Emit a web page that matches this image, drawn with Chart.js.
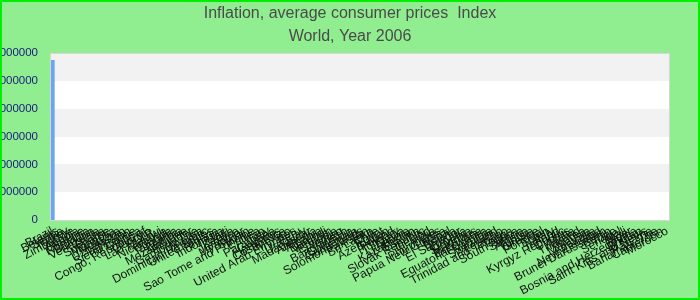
<!DOCTYPE html>
<html>
<head>
<meta charset="utf-8">
<script src="https://cdn.jsdelivr.net/npm/chart.js@4"></script>
<style>
  body { margin: 0; }
  #wrap {
    position: relative;
    width: 700px;
    height: 300px;
    box-sizing: border-box;
    border: 2px solid #00ee00;
    background: #90ee90;
  }
</style>
</head>
<body>
<div id="wrap"><canvas id="inflationChart"></canvas></div>
<script>
const titleLines = ["Inflation, average consumer prices  Index", "World, Year 2006"];

const countries = [
  "Brazil", "Belarus", "Serbia", "Turkey", "Zimbabwe", "Angola", "Ukraine", "Romania",
  "Bulgaria", "Venezuela", "Ghana", "Suriname", "Mongolia", "Moldova", "Uzbekistan", "Tajikistan",
  "Sierra Leone", "Guinea", "Congo, Republic of", "Georgia", "Lao P.D.R.", "Malawi", "Nicaragua", "Uganda",
  "Tanzania", "Zambia", "Mozambique", "Ecuador", "Gambia, The", "Russia", "Dominican Republic", "United States",
  "Nigeria", "Indonesia", "Haiti", "Kenya", "Jamaica", "Myanmar", "Sudan", "Sao Tome and Principe",
  "Eritrea", "Iran", "Paraguay", "Guyana", "Honduras", "Costa Rica", "Mexico", "United Arab Emirates",
  "Peru", "Uruguay", "Madagascar", "Armenia", "Albania", "Burundi", "Vietnam", "Ethiopia",
  "Yemen", "Bangladesh", "Colombia", "Guatemala", "Solomon Islands", "Pakistan", "Sri Lanka", "Chile",
  "Egypt", "Azerbaijan", "Poland", "Hungary", "Latvia", "Lithuania", "Kazakhstan", "Estonia",
  "Slovak Republic", "Iceland", "India", "Philippines", "Papua New Guinea", "Nepal", "Bolivia", "El Salvador",
  "Croatia", "Slovenia", "Mauritius", "Botswana", "Equatorial Guinea", "Namibia", "Swaziland", "Lesotho",
  "Trinidad and Tobago", "Tonga", "South Africa", "Samoa", "Algeria", "Tunisia", "Greece", "Portugal",
  "Spain", "Italy", "Ireland", "Kyrgyz Republic", "Cyprus", "Malta", "Thailand", "Korea",
  "Malaysia", "Australia", "New Zealand", "Brunei Darussalam", "Benin", "Togo", "Senegal", "Mali",
  "Niger", "Bosnia and Herzegovina", "Bhutan", "Saint Kitts and Nevis", "Panama", "Bahamas, The", "Cameroon", "Morocco"
];

// only Brazil shows; the rest are too small to see at this scale
const indexValues = [
  5750000000, 3100, 2850, 2600, 2400, 2250, 2100, 1980,
  1870, 1760, 1650, 1560, 1480, 1400, 1330, 1270,
  1210, 1150, 1100, 1050, 1000, 960, 920, 880,
  850, 820, 790, 760, 730, 700, 680, 660,
  640, 620, 600, 580, 560, 545, 530, 515,
  500, 485, 470, 455, 440, 430, 420, 410,
  400, 390, 380, 370, 360, 350, 342, 334,
  326, 318, 310, 302, 295, 288, 281, 274,
  268, 262, 256, 250, 244, 238, 232, 227,
  222, 217, 212, 207, 202, 198, 194, 190,
  186, 182, 178, 174, 170, 167, 164, 161,
  158, 155, 152, 149, 146, 143, 140, 138,
  136, 134, 132, 130, 128, 126, 124, 122,
  120, 118, 116, 115, 114, 113, 112, 111,
  110, 109, 108, 107, 106, 105, 104, 103
];

const yTickValues = [0, 1000000000, 2000000000, 3000000000, 4000000000, 5000000000, 6000000000];

// grey / white bands between y ticks, plus the plot border
const plotBands = {
  id: "plotBands",
  beforeDatasetsDraw(chart) {
    const { ctx, chartArea } = chart;
    const y = chart.scales.y;
    ctx.save();
    for (let i = 0; i < yTickValues.length - 1; i++) {
      const yBottom = Math.round(y.getPixelForValue(yTickValues[i]));
      const yTop = Math.round(y.getPixelForValue(yTickValues[i + 1]));
      ctx.fillStyle = i % 2 === 1 ? "#f2f2f2" : "#ffffff";
      ctx.fillRect(chartArea.left, yTop, chartArea.right - chartArea.left, yBottom - yTop);
    }
    ctx.restore();
  },
  afterDraw(chart) {
    const { ctx, chartArea } = chart;
    ctx.save();
    ctx.strokeStyle = "#d6d6d6";
    ctx.lineWidth = 1;
    ctx.strokeRect(Math.round(chartArea.left) + 0.5, Math.round(chartArea.top) + 0.5,
      Math.round(chartArea.right - chartArea.left) - 1, Math.round(chartArea.bottom - chartArea.top));
    ctx.restore();
  }
};

const ctx = document.getElementById("inflationChart").getContext("2d");
const inflationChart = new Chart(ctx, {
  type: "bar",
  data: {
    labels: countries,
    datasets: [{
      label: "Index",
      data: indexValues,
      backgroundColor: "#69a5f2",
      barPercentage: 1,
      categoryPercentage: 0.8
    }]
  },
  options: {
    responsive: true,
    maintainAspectRatio: false,
    animation: false,
    plugins: {
      legend: { display: false },
      tooltip: { enabled: false },
      title: {
        display: true,
        text: titleLines,
        color: "#4a4a4a",
        font: { family: "'Liberation Sans', Arial, sans-serif", size: 16, weight: "normal", lineHeight: 1.45 },
        padding: { top: 0, bottom: 4.6 }
      }
    },
    scales: {
      x: {
        grid: { display: false, drawTicks: false },
        border: { display: false },
        ticks: {
          autoSkip: false,
          minRotation: 28,
          maxRotation: 28,
          padding: 4,
          color: "#111",
          font: { family: "'Liberation Sans', Arial, sans-serif", size: 12 }
        },
        afterFit(scale) {
          scale.height = 78;
          scale.paddingLeft = 0;
          scale.paddingRight = 28;
        }
      },
      y: {
        min: 0,
        max: 6000000000,
        grid: { display: false, drawTicks: false },
        border: { display: false },
        ticks: {
          padding: 12,
          color: "#1a1a80",
          font: { family: "'Liberation Sans', Arial, sans-serif", size: 11.5 },
          callback: (v) => String(v)
        },
        afterBuildTicks(scale) {
          scale.ticks = yTickValues.map(v => ({ value: v }));
        },
        afterFit(scale) {
          scale.width = 48;
        }
      }
    }
  },
  plugins: [plotBands]
});
</script>
</body>
</html>
